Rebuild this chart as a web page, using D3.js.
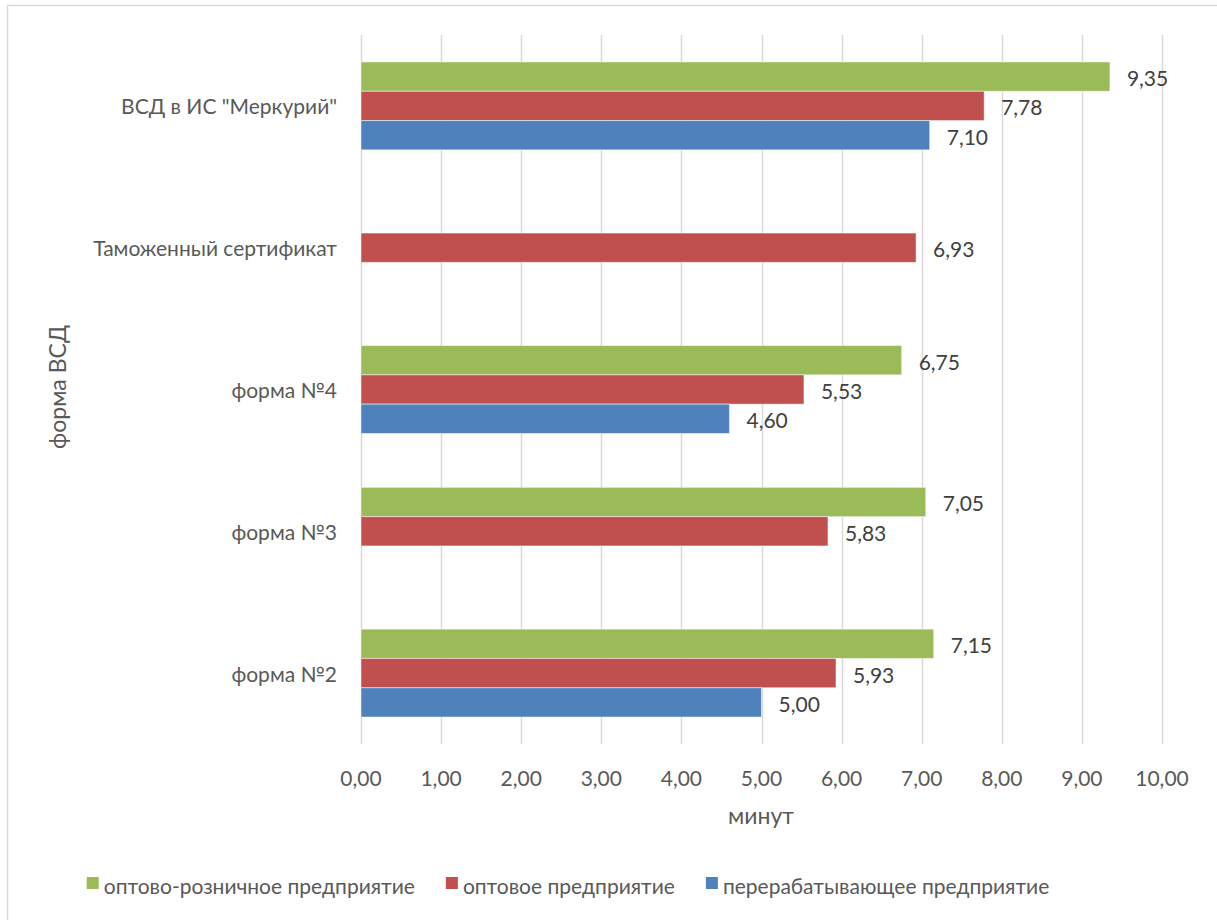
<!DOCTYPE html>
<html><head><meta charset="utf-8">
<script src="https://cdn.jsdelivr.net/npm/d3@7"></script>
<style>body{margin:0;background:#fff}svg{display:block}text{font-family:Lato,"Open Sans",sans-serif}</style>
</head><body><svg id="c" width="1217" height="920"></svg>
<script>
const categories = ['ВСД в ИС "Меркурий"', 'Таможенный сертификат', 'форма №4', 'форма №3', 'форма №2'];
const seriesNames = ['оптово-розничное предприятие', 'оптовое предприятие', 'перерабатывающее предприятие'];
const seriesColors = ['#9BBB59', '#C0504D', '#4F81BD'];
const wholesaleRetail = [9.35, null, 6.75, 7.05, 7.15];
const wholesale = [7.78, 6.93, 5.53, 5.83, 5.93];
const processing = [7.10, null, 4.60, null, 5.00];
const xTicks = [0,1,2,3,4,5,6,7,8,9,10];
const xTitle = 'минут';
const yTitle = 'форма ВСД';

const seriesValues = [wholesaleRetail, wholesale, processing];
const fmt = v => v.toFixed(2).replace('.', ',');
const svg = d3.select('#c');
const FS = 21;

svg.append('rect').attr('x',7.5).attr('y',5.5).attr('width',1220).attr('height',930)
  .attr('fill','#fff').attr('stroke','#d9d9d9').attr('stroke-width',1.5);

const x = d3.scaleLinear().domain([0,10]).range([361,1162]);
const y = d3.scaleBand().domain(categories).range([35,744]).paddingInner(0.38).paddingOuter(0.19);
const ys = d3.scaleBand().domain(d3.range(3)).range([0,y.bandwidth()]);

// gridlines
svg.append('g').selectAll('line').data(xTicks).join('line')
  .attr('x1',d=>Math.round(x(d))+0.5).attr('x2',d=>Math.round(x(d))+0.5)
  .attr('y1',35).attr('y2',744).attr('stroke','#d9d9d9').attr('stroke-width',1.5);

// bars
const g = svg.append('g');
seriesValues.forEach((vals, si) => {
  const data = categories.map((c,i)=>({c, v: vals[i]})).filter(d=>d.v!=null);
  g.append('g').selectAll('rect').data(data).join('rect')
    .attr('x', x(0)).attr('y', d=>y(d.c)+ys(si))
    .attr('width', d=>x(d.v)-x(0)).attr('height', ys.bandwidth())
    .attr('fill', seriesColors[si]).attr('stroke','#fff').attr('stroke-opacity',0.5).attr('stroke-width',1);
  g.append('g').selectAll('text').data(data).join('text')
    .attr('x', d=>x(d.v)+17).attr('y', d=>y(d.c)+ys(si)+ys.bandwidth()/2+1)
    .attr('dominant-baseline','central').attr('font-size',FS).attr('fill','#404040')
    .text(d=>fmt(d.v));
});

// x axis labels
svg.append('g').selectAll('text').data(xTicks).join('text')
  .attr('x', d=>x(d)).attr('y',777).attr('text-anchor','middle').attr('dominant-baseline','central')
  .attr('font-size',FS).attr('fill','#595959').text(d=>fmt(d));

// y axis labels
svg.append('g').selectAll('text').data(categories).join('text')
  .attr('x',337).attr('y',d=>y(d)+y.bandwidth()/2).attr('text-anchor','end').attr('dominant-baseline','central')
  .attr('font-size',FS).attr('fill','#595959').text(d=>d);

// titles
svg.append('text').attr('x',761).attr('y',815).attr('text-anchor','middle').attr('dominant-baseline','central')
  .attr('font-size',23).attr('fill','#595959').text(xTitle);
svg.append('text').attr('transform','translate(57,387) rotate(-90)').attr('text-anchor','middle').attr('dominant-baseline','central')
  .attr('font-size',23).attr('fill','#595959').text(yTitle);

// legend
const lg = svg.append('g');
const items = seriesNames.map((n,i)=>{
  const t = lg.append('text').attr('font-size',FS).attr('fill','#595959').attr('dominant-baseline','central').attr('y',885).text(n);
  return {t, w: t.node().getComputedTextLength(), i};
});
const sq = 12, gap1 = 5, gap2 = 31;
const total = d3.sum(items, d=>sq+gap1+d.w) + gap2*(items.length-1);
let cx = 568 - total/2;
items.forEach(it=>{
  lg.append('rect').attr('x',cx).attr('y',889-sq).attr('width',sq).attr('height',sq).attr('fill',seriesColors[it.i]);
  it.t.attr('x', cx+sq+gap1);
  cx += sq+gap1+it.w+gap2;
});
</script></body></html>
